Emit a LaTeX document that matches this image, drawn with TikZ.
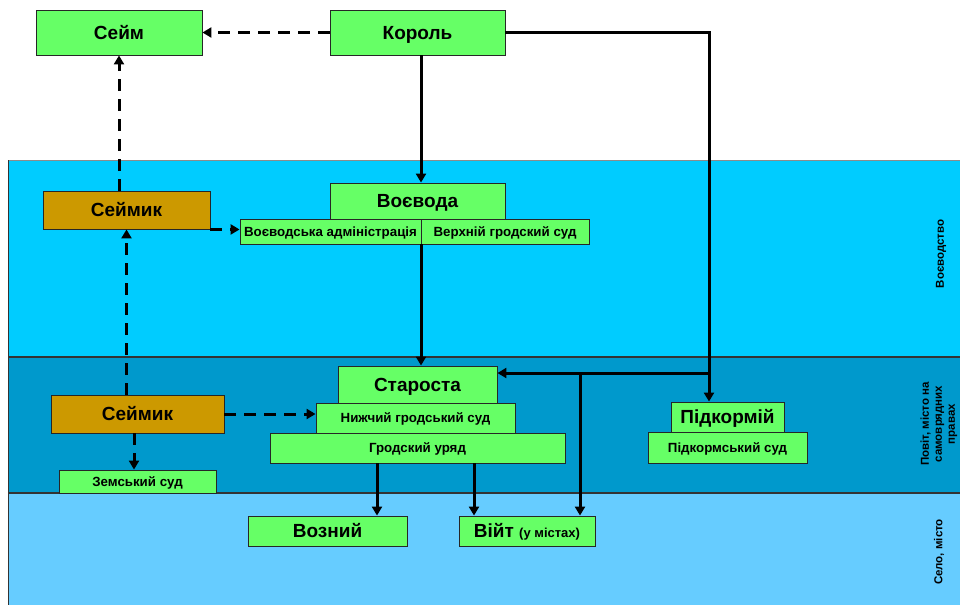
\documentclass[tikz,border=0pt]{standalone}
\usepackage{fontspec}
\setmainfont{Liberation Sans}
\usetikzlibrary{arrows.meta}
\definecolor{boxgreen}{HTML}{66FF66}
\definecolor{sejmikgold}{HTML}{CC9900}
\definecolor{bandtop}{HTML}{00CCFF}
\definecolor{bandmid}{HTML}{0099CC}
\definecolor{bandlow}{HTML}{66CCFF}
\begin{document}
\begin{tikzpicture}[x=1pt,y=-1pt,
  box/.style={draw=black!85, line width=0.9pt, fill=boxgreen, inner sep=0pt,
    text height=13.6pt, text depth=0pt,
    font=\bfseries\fontsize{19}{21}\selectfont},
  subbox/.style={box, text height=9.5pt, font=\bfseries\fontsize{13.3}{15}\selectfont},
  goldbox/.style={box, fill=sejmikgold},
  link/.style={line width=3pt, -{Triangle[length=9pt,width=10pt]}},
  dlink/.style={link, dash pattern=on 12pt off 8pt},
  side/.style={rotate=90, font=\bfseries\fontsize{11.5}{13}\selectfont, align=center}]
\useasboundingbox (0,0) rectangle (960,605);

% administrative levels
\fill[bandtop] (8,160) rectangle (960,357);
\fill[bandmid] (8,357) rectangle (960,493);
\fill[bandlow] (8,493) rectangle (960,605);
\draw[black!45, line width=1pt] (8,160) -- (960,160);
\draw[black!80, line width=1.2pt] (8,357) -- (960,357);
\draw[black!80, line width=1.2pt] (8,493) -- (960,493);
\draw[black!80, line width=1pt] (8,160) -- (8,605);

\node[side] (lv1) at (941,254) {Воєводство};
\node[side] (lv2) at (939,424) {Повіт, місто на\\самоврядних\\правах};
\node[side] (lv3) at (939,552) {Село, місто};

% offices
\node[box, minimum width=166, minimum height=45] (sejm) at (119,32.5) {Сейм};
\node[box, minimum width=175, minimum height=45] (korol) at (417.5,32.5) {Король};

\node[goldbox, minimum width=167, minimum height=38] (sejmik1) at (126.5,210) {Сеймик};
\node[box, minimum width=175, minimum height=36] (voevoda) at (417.5,201) {Воєвода};
\node[subbox, minimum width=181, minimum height=25] (adm) at (330.5,231.5) {Воєводська адміністрація};
\node[subbox, minimum width=168, minimum height=25] (vgs) at (505,231.5) {Верхній гродский суд};

\node[box, minimum width=159, minimum height=37] (starosta) at (417.5,384.5) {Староста};
\node[subbox, minimum width=199, minimum height=30] (nhs) at (415.5,418) {Нижчий гродський суд};
\node[subbox, minimum width=295, minimum height=30] (hrod) at (417.5,448) {Гродский уряд};
\node[goldbox, minimum width=173, minimum height=38] (sejmik2) at (137.5,414) {Сеймик};
\node[subbox, minimum width=157, minimum height=23] (zemsky) at (137.5,481.5) {Земський суд};
\node[box, minimum width=113, minimum height=30] (pidk) at (727.5,417) {Підкормій};
\node[subbox, minimum width=159, minimum height=31] (pidks) at (727.5,447.5) {Підкормський суд};

\node[box, minimum width=159, minimum height=30] (voznyj) at (327.5,531) {Возний};
\node[box, minimum width=136, minimum height=30] (vijt) at (527,531)
  {Війт {\fontsize{13}{15}\selectfont (у містах)}};

% routing points
\coordinate (split) at (421,244);
\coordinate (turn) at (709,32.5);
\coordinate (fork) at (580,373);

% connections
\draw[dlink] (korol.west) -- (sejm.east);
\draw[dlink] (sejmik1.north -| sejm.south) -- (sejm.south);
\draw[dlink] (sejmik2.north -| sejmik1.south) -- (sejmik1.south);
\draw[dlink] (sejmik1.south east) -- (sejmik1.south east -| adm.west);
\draw[dlink] (sejmik2.east) -- (sejmik2.east -| nhs.west);
\draw[dlink] (sejmik2.south -| 134,0) -- (zemsky.north -| 134,0);

\draw[link] (korol.south -| split) -- (voevoda.north -| split);
\draw[link] (split) -- (starosta.north -| split);
\draw[link] (korol.east) -- (turn) -- (turn |- pidk.north);
\draw[link] (turn |- fork) -- (starosta.east |- fork);
\draw[link] (fork) -- (fork |- vijt.north);
\draw[link] (hrod.south -| 377,0) -- (voznyj.north -| 377,0);
\draw[link] (hrod.south -| 474,0) -- (vijt.north -| 474,0);
\end{tikzpicture}
\end{document}
